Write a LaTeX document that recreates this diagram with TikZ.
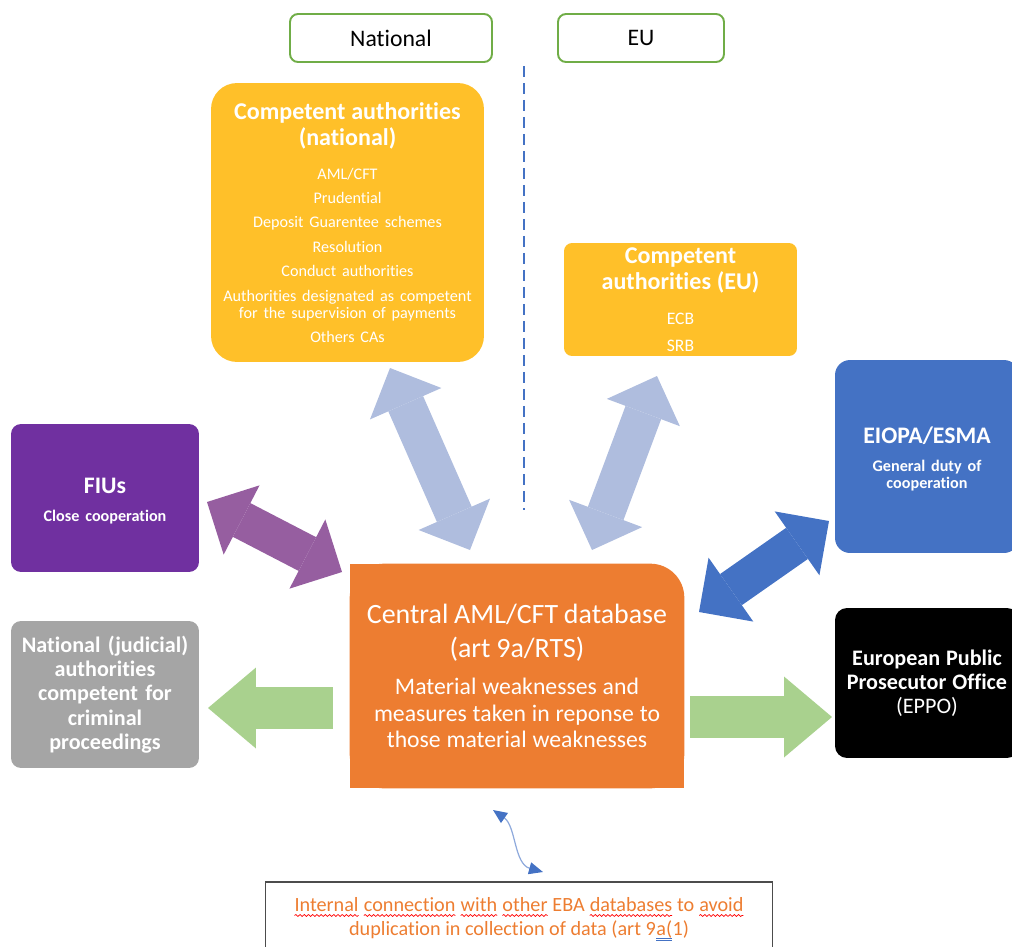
\documentclass[tikz,border=0pt]{standalone}
\usepackage{fontspec}
\setmainfont{Carlito}[Ligatures=NoCommon]
\usetikzlibrary{arrows.meta,backgrounds,decorations.pathmorphing}

\definecolor{caYellow}{RGB}{255,192,41}
\definecolor{dbOrange}{RGB}{237,125,49}
\definecolor{euBlue}{RGB}{68,114,196}
\definecolor{fiuPurple}{RGB}{112,48,160}
\definecolor{judGray}{RGB}{165,165,165}
\definecolor{tagGreen}{RGB}{112,173,71}
\definecolor{lavArrow}{RGB}{175,189,222}
\definecolor{purArrow}{RGB}{150,94,160}
\definecolor{grnArrow}{RGB}{169,209,142}
\definecolor{thinBlue}{RGB}{143,170,220}

\newcommand{\catitle}{\fontsize{13.7}{14.7}\selectfont\bfseries}
\newcommand{\caitem}{\fontsize{9.2}{9.6}\selectfont}
% spell-check marks under words
\tikzset{wordbox/.style={inner sep=0pt, outer sep=0pt, minimum width=0pt, minimum height=0pt,
  draw=none, fill=none, text=dbOrange, text width=, align=left}}
\newcommand{\spell}[1]{\tikz[baseline=(w.base)]{\node[wordbox] (w) {#1};
  \draw[red, line width=0.4pt, decorate, decoration={snake, amplitude=0.55pt, segment length=2.4pt}]
    ([yshift=-2.4pt]w.base west) -- ([yshift=-2.4pt]w.base east);}}
\newcommand{\dbl}[1]{\tikz[baseline=(w.base)]{\node[wordbox] (w) {#1};
  \draw[euBlue, line width=0.4pt] ([yshift=-1.8pt]w.base west) -- ([yshift=-1.8pt]w.base east);
  \draw[euBlue, line width=0.4pt] ([yshift=-3pt]w.base west) -- ([yshift=-3pt]w.base east);}}

\tikzset{
  tagbox/.style={draw=tagGreen, line width=1.1pt, rounded corners=0.16cm,
    minimum height=0.96cm, font=\fontsize{13.5}{15}\selectfont},
  authbox/.style={text=white, align=center, inner sep=0pt},
  bigarrow/.style={line width=0.76cm,
    {Triangle[length=0.78cm,width=1.56cm,line width=0pt]}-{Triangle[length=0.78cm,width=1.56cm,line width=0pt]}},
  flatarrow/.style={line width=0.84cm,
    -{Triangle[length=0.96cm,width=1.62cm,line width=0pt]}},
}

\begin{document}
\begin{tikzpicture}[x=0.02cm, y=-0.02cm]
\useasboundingbox (0,0) rectangle (1012,947);
\clip (0,0) rectangle (1012,947);

% column labels
\node[tagbox, minimum width=4.04cm] (natlab) at (391,38) {National};
\node[tagbox, minimum width=3.32cm] (eulab) at (641,38) {EU};
\draw[euBlue, line width=0.9pt, dash pattern=on 0.22cm off 0.12cm] (524,66) -- (524,510);

% authorities
\node[authbox, fill=caYellow, rounded corners=0.52cm, minimum width=5.46cm,
  minimum height=5.58cm, text width=5.3cm] (natca) at (347.5,222.5) {%
  {\catitle Competent authorities\\(national)\par}\vspace{9.7pt}%
  {\caitem AML/CFT\\[4.3pt]Prudential\\[4.3pt]Deposit Guarentee schemes\\[4.3pt]%
  Resolution\\[4.3pt]Conduct authorities\\[4.3pt]Authorities designated as competent\\%
  for the supervision of payments\\[4.3pt]Others CAs\par}};
\node[authbox, fill=caYellow, rounded corners=0.16cm, minimum width=4.66cm,
  minimum height=2.26cm, text width=4.4cm] (euca) at (680.5,299.5) {%
  {\catitle Competent\\authorities (EU)\par}\vspace{4.5pt}%
  {\fontsize{10}{15.3}\selectfont ECB\\SRB\par}};
\node[authbox, fill=euBlue, rounded corners=0.3cm, minimum width=3.68cm,
  minimum height=3.86cm, text width=3.4cm] (eiopa) at (927,456.5) {%
  {\fontsize{13.5}{15}\selectfont\bfseries EIOPA/ESMA\par}\vspace{6.4pt}%
  {\fontsize{9.2}{9.6}\selectfont\bfseries General duty of\\cooperation\par}\vspace{-3pt}};
\node[authbox, fill=fiuPurple, rounded corners=0.2cm, minimum width=3.76cm,
  minimum height=2.96cm, text width=3.5cm] (fiu) at (105,498) {%
  {\fontsize{13.5}{15}\selectfont\bfseries FIUs\par}\vspace{6.3pt}%
  {\fontsize{9.2}{9.6}\selectfont\bfseries Close cooperation\par}\vspace{-4pt}};
\node[authbox, fill=judGray, rounded corners=0.2cm, minimum width=3.76cm,
  minimum height=2.94cm, text width=3.6cm,
  font=\fontsize{12.6}{13.8}\selectfont\bfseries] (jud) at (105,694.5)
  {National (judicial)\\authorities\\competent for\\criminal\\proceedings};
\node[authbox, fill=black, rounded corners=0.24cm, minimum width=3.68cm,
  minimum height=3cm, text width=3.5cm] (eppo) at (927,683) {%
  {\fontsize{12.6}{13.6}\selectfont\bfseries European Public\\Prosecutor Office\\%
  \mdseries (EPPO)\par}};

% central database
\node[authbox, minimum width=6.68cm, minimum height=4.48cm, text width=6.5cm] (db)
  at (517,676) {%
  {\fontsize{15.9}{19.2}\selectfont Central AML/CFT database\\(art 9a/RTS)\par}\vspace{6.3pt}%
  {\fontsize{13.5}{15}\selectfont Material weaknesses and\\measures taken in reponse to\\%
  those material weaknesses\par}};
\begin{scope}[on background layer]
  \fill[dbOrange, rounded corners=0.68cm] (db.north west) rectangle (db.south east);
  \fill[dbOrange] (db.north west) rectangle +(40,40);
  \fill[dbOrange] (db.south west) rectangle +(40,-40);
  \fill[dbOrange] (db.south east) rectangle +(-40,-40);
\end{scope}

% note
\node[draw=black!70, line width=0.6pt, minimum width=10.16cm, minimum height=1.48cm,
  align=center, text=dbOrange, font=\fontsize{11.5}{13.6}\selectfont] (note) at (519,919)
  {\spell{Internal} \spell{connection} \spell{with} \spell{other} EBA \spell{databases} to \spell{avoid}\\
  duplication in collection of data (art 9\dbl{a(}1)};

% arrows
\coordinate (natTip) at (390,368);
\coordinate (dbTipN) at (470,550);
\coordinate (euTip) at (657,376);
\coordinate (dbTipE) at (592,550);
\coordinate (fiuTip) at (207,502);
\coordinate (dbTipF) at (342,572);
\coordinate (eiopaTip) at (829,521);
\coordinate (dbTipB) at (699,612);
\coordinate (dbLeft) at (333,708);
\coordinate (judTip) at (208,708);
\coordinate (dbRight) at (690,717);
\coordinate (eppoTip) at (832,717);
\coordinate (dbLink) at (493,810);
\coordinate (noteLink) at (543,872);

\draw[bigarrow, lavArrow] (natTip) -- (dbTipN);
\draw[bigarrow, lavArrow] (euTip) -- (dbTipE);
\draw[bigarrow, purArrow] (fiuTip) -- (dbTipF);
\draw[bigarrow, euBlue] (eiopaTip) -- (dbTipB);
\draw[flatarrow, grnArrow] (dbLeft) -- (judTip);
\draw[flatarrow, grnArrow] (dbRight) -- (eppoTip);
\draw[thinBlue, line width=0.7pt,
  {Triangle[length=0.28cm,width=0.24cm,color=euBlue]}-{Triangle[length=0.28cm,width=0.24cm,color=euBlue]}]
  (dbLink) .. controls (516,826) and (514,864) .. (noteLink);

\end{tikzpicture}
\end{document}
